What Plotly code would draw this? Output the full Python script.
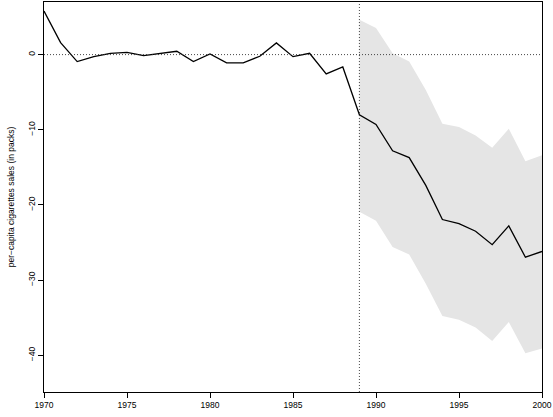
import plotly.graph_objects as go

# Gap in per-capita cigarette sales: treated unit minus its synthetic control
years = list(range(1970, 2001))
gap = [5.8, 1.6, -0.93, -0.27, 0.17, 0.3, -0.13, 0.17, 0.44, -0.93,
       0.09, -1.1, -1.1, -0.22, 1.55, -0.27, 0.17, -2.57, -1.64, -8.0,
       -9.3, -12.8, -13.7, -17.4, -21.95, -22.5, -23.5, -25.3, -22.8, -26.96,
       -26.2]

# Confidence band for the post-treatment period
band_years = list(range(1989, 2001))
band_upper = [4.65, 3.54, 0.17, -0.93, -4.7, -9.2, -9.65, -10.76, -12.4, -9.87, -14.2, -13.4]
band_lower = [-20.9, -22.1, -25.6, -26.6, -30.5, -34.8, -35.3, -36.3, -38.1, -35.6, -39.75, -39.1]

x_ticks = [1970, 1975, 1980, 1985, 1990, 1995, 2000]
y_ticks = [0, -10, -20, -30, -40]
y_tick_text = ["0", "\u221210", "\u221220", "\u221230", "\u221240"]
treatment_year = 1989

font_family = "Liberation Sans, Arial, Helvetica, sans-serif"

fig = go.Figure()

fig.add_trace(go.Scatter(
    x=band_years, y=band_lower, mode="lines",
    line=dict(width=0, color="rgba(0,0,0,0)"),
    hoverinfo="skip", showlegend=False,
))
fig.add_trace(go.Scatter(
    x=band_years, y=band_upper, mode="lines",
    line=dict(width=0, color="rgba(0,0,0,0)"),
    fill="tonexty", fillcolor="#e5e5e5",
    hoverinfo="skip", showlegend=False,
))
fig.add_trace(go.Scatter(
    x=years, y=gap, mode="lines",
    line=dict(color="black", width=1.3),
    showlegend=False,
))

# Reference lines: zero gap and the treatment year
dotted = dict(color="#333333", width=0.9, dash="1px,2px")
fig.add_shape(type="line", xref="paper", yref="y", x0=0, x1=1, y0=0, y1=0,
              line=dotted, layer="above")
fig.add_shape(type="line", xref="x", yref="paper", x0=treatment_year, x1=treatment_year,
              y0=0, y1=1, line=dotted, layer="above")

fig.update_layout(
    width=553, height=417,
    margin=dict(l=44, r=9, t=1, b=25),
    plot_bgcolor="white", paper_bgcolor="white",
    font=dict(family=font_family, size=8.5, color="black"),
)
fig.update_xaxes(
    range=[1970, 2000], tickvals=x_ticks, ticktext=[str(t) for t in x_ticks],
    ticks="outside", ticklen=5, tickcolor="black", tickwidth=1,
    ticklabeloverflow="allow",
    showline=True, linecolor="black", linewidth=1, mirror=True,
    showgrid=False, zeroline=False,
)
fig.update_yaxes(
    range=[-44.9, 7.0], tickvals=y_ticks, ticktext=y_tick_text,
    tickangle=-90,
    ticks="outside", ticklen=5, tickcolor="black", tickwidth=1,
    showline=True, linecolor="black", linewidth=1, mirror=True,
    showgrid=False, zeroline=False,
    title=dict(text="per\u2212capita cigarettes sales (in packs)", standoff=10,
               font=dict(size=8.5)),
)

fig.write_html("out.html")
